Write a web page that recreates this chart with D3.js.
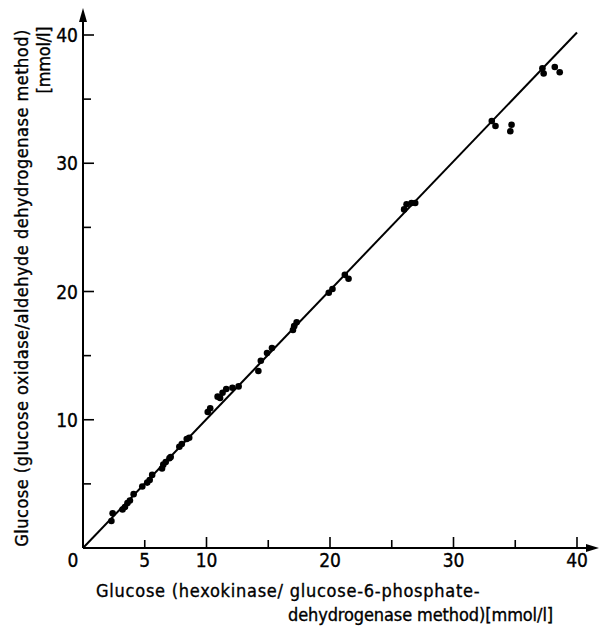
<!DOCTYPE html>
<html>
<head>
<meta charset="utf-8">
<script src="https://cdn.jsdelivr.net/npm/d3@7"></script>
<style>
  html, body { margin: 0; padding: 0; background: #fff; }
  svg { display: block; }
  text { font-family: "DejaVu Sans Condensed", "DejaVu Sans", sans-serif; font-stretch: condensed; fill: #000; stroke: #000; stroke-width: 0.35px; }
</style>
</head>
<body>
<svg id="chart" width="599" height="628"></svg>
<script>
// Reference method (hexokinase / G6P-DH), mmol/l
const xValues = [2.3, 2.4, 3.2, 3.4, 3.6, 3.8, 4.1, 4.8, 5.2, 5.4, 5.6, 6.4, 6.5, 6.7, 7.0, 7.1, 7.8, 8.0, 8.4, 8.6,
  10.1, 10.3, 10.9, 11.1, 11.3, 11.6, 12.1, 12.6, 14.2, 14.4, 14.9, 15.3, 17.0, 17.1, 17.3, 19.9, 20.2, 21.2, 21.5,
  26.0, 26.2, 26.6, 26.9, 33.1, 33.4, 34.6, 34.7, 37.2, 37.3, 38.2, 38.6];
// Glucose oxidase / aldehyde dehydrogenase method, mmol/l
const yValues = [2.1, 2.7, 3.0, 3.2, 3.5, 3.7, 4.2, 4.8, 5.1, 5.3, 5.7, 6.2, 6.5, 6.7, 7.0, 7.1, 7.9, 8.1, 8.5, 8.6,
  10.6, 10.9, 11.8, 11.7, 12.1, 12.4, 12.5, 12.6, 13.8, 14.6, 15.2, 15.6, 17.0, 17.3, 17.6, 19.9, 20.2, 21.3, 21.0,
  26.4, 26.8, 26.9, 26.9, 33.3, 32.9, 32.5, 33.0, 37.4, 37.0, 37.5, 37.1];
// Regression line endpoints
const lineX = [0, 40];
const lineY = [0, 40.2];
const majorTicks = [10, 20, 30, 40];
const minorTicks = [5, 15, 25, 35];
const xTickLabels = [5, 10, 20, 30, 40];
const yTickLabels = [10, 20, 30, 40];
const xTitle = ["Glucose (hexokinase/ glucose-6-phosphate-", "dehydrogenase method)[mmol/l]"];
const yTitle = ["Glucose (glucose oxidase/aldehyde dehydrogenase method)", "[mmol/l]"];

const svg = d3.select("#chart");
const x = d3.scaleLinear().domain([0, 40]).range([83, 577]);
const y = d3.scaleLinear().domain([0, 40]).range([548, 35]);

const axisStroke = 2;

// axes lines
svg.append("line").attr("x1", x(0)).attr("x2", 590).attr("y1", y(0)).attr("y2", y(0))
  .attr("stroke", "#000").attr("stroke-width", axisStroke);
svg.append("line").attr("x1", x(0)).attr("x2", x(0)).attr("y1", y(0)).attr("y2", 20)
  .attr("stroke", "#000").attr("stroke-width", axisStroke);
// arrow heads
svg.append("path").attr("d", `M599,${y(0)} L586,${y(0) - 4} L586,${y(0) + 4} Z`).attr("fill", "#000");
svg.append("path").attr("d", `M${x(0)},8 L${x(0) - 4},22 L${x(0) + 4},22 Z`).attr("fill", "#000");

// ticks (inward)
const ticksAll = majorTicks.map(v => ({v, len: 11})).concat(minorTicks.map(v => ({v, len: 8})));
svg.append("g").selectAll("line").data(ticksAll).join("line")
  .attr("x1", d => x(d.v)).attr("x2", d => x(d.v))
  .attr("y1", y(0)).attr("y2", d => y(0) - d.len)
  .attr("stroke", "#000").attr("stroke-width", 1.6);
svg.append("g").selectAll("line").data(ticksAll).join("line")
  .attr("y1", d => y(d.v)).attr("y2", d => y(d.v))
  .attr("x1", x(0)).attr("x2", d => x(0) + d.len)
  .attr("stroke", "#000").attr("stroke-width", 1.6);

// tick labels
svg.append("g").selectAll("text").data(xTickLabels).join("text")
  .attr("x", d => x(d)).attr("y", 567)
  .attr("text-anchor", "middle").attr("font-size", 19).text(d => d);
svg.append("text").attr("x", 73).attr("y", 567).attr("text-anchor", "middle").attr("font-size", 19).text("0");
svg.append("g").selectAll("text").data(yTickLabels).join("text")
  .attr("x", 78).attr("y", d => y(d) + 7)
  .attr("text-anchor", "end").attr("font-size", 19).text(d => d);

// axis titles
svg.append("text").attr("x", 96).attr("y", 597).attr("font-size", 18).attr("letter-spacing", 0.75).text(xTitle[0]);
svg.append("text").attr("x", 553).attr("y", 621).attr("text-anchor", "end").attr("font-size", 18).attr("letter-spacing", -0.1).text(xTitle[1]);
svg.append("text").attr("transform", "translate(28,288) rotate(-90)")
  .attr("text-anchor", "middle").attr("font-size", 18).attr("letter-spacing", 0.5).text(yTitle[0]);
svg.append("text").attr("transform", "translate(50,60) rotate(-90)")
  .attr("text-anchor", "middle").attr("font-size", 18).attr("letter-spacing", -0.2).text(yTitle[1]);

// regression line
svg.append("line")
  .attr("x1", x(lineX[0])).attr("y1", y(lineY[0]))
  .attr("x2", x(lineX[1])).attr("y2", y(lineY[1]))
  .attr("stroke", "#000").attr("stroke-width", 2);

// points
svg.append("g").selectAll("circle").data(xValues.map((v, i) => [v, yValues[i]])).join("circle")
  .attr("cx", d => x(d[0])).attr("cy", d => y(d[1])).attr("r", 3.3).attr("fill", "#000");
</script>
</body>
</html>
